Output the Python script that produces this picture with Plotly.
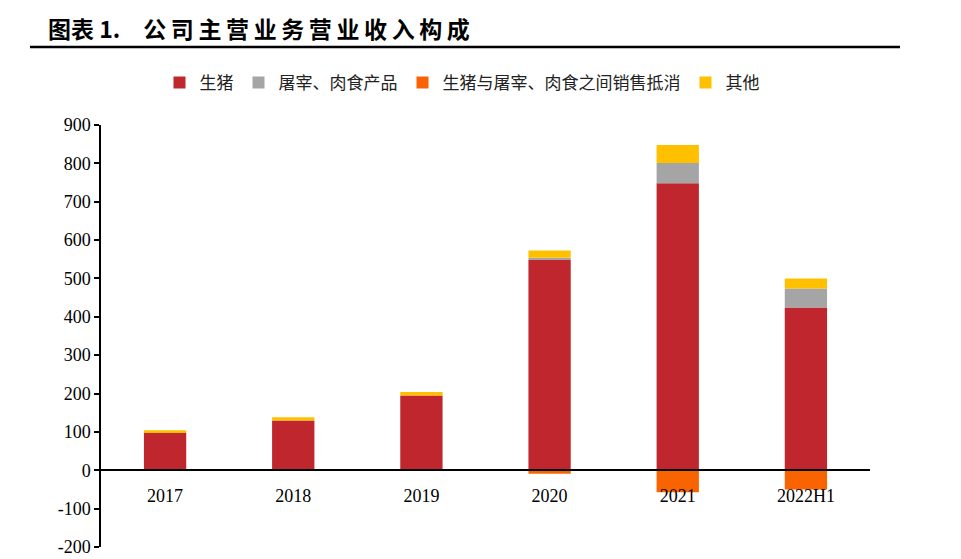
import plotly.graph_objects as go

categories = ["2017", "2018", "2019", "2020", "2021", "2022H1"]
pig = [97, 130, 195, 548, 748, 424]
meat = [0, 0, 0, 6, 53, 50]
offset = [0, 0, 0, -9, -57, -50]
other = [7, 8, 9, 19, 47, 26]
y_ticks = [-200, -100, 0, 100, 200, 300, 400, 500, 600, 700, 800, 900]
y_tick_text = ["-200", "-100", "0", "100", "200", "300", "400", "500", "600", "700", "800", "900"]

names = ["生猪", "屠宰、肉食产品", "生猪与屠宰、肉食之间销售抵消", "其他"]
colors = ["#C0262D", "#A5A5A5", "#F96400", "#FFC000"]

fig = go.Figure()
for name, vals, col in zip(names, [pig, meat, offset, other], colors):
    fig.add_trace(go.Bar(x=categories, y=vals, name=name, marker=dict(color=col, line=dict(width=0)),
                         width=0.33))

# page body has an 8px offset; positions below are in figure coords
OFF = 8
W, H = 961, 559
L, R, T, B = 101 - OFF, 870 - OFF, 125 - OFF, 547 - OFF
zero_pos = (0 - (-200)) / 1100
PW, PH = R - L, B - T

title_txt = "图表 " + "1." + "\u2003" + "\u2009".join("公司主营业务营业收入构成")

fig.update_layout(
    width=W, height=H,
    margin=dict(l=L, r=W - R, t=T, b=H - B, pad=0, autoexpand=False),
    barmode="relative",
    plot_bgcolor="white", paper_bgcolor="white",
    font=dict(family="Liberation Serif", size=18, color="black"),
    showlegend=True,
    legend=dict(orientation="h", xref="container", yref="container",
                x=(462 - OFF) / W, xanchor="center",
                y=1 - (83 - OFF) / H, yanchor="middle",
                font=dict(family="Noto Sans CJK SC", size=17, color="#222"),
                itemwidth=30, tracegroupgap=0),
    title=dict(text="<b>" + title_txt + "</b>", xref="container", yref="container",
               x=(48 - OFF) / W, xanchor="left", y=1 - (30 - OFF) / H, yanchor="middle",
               font=dict(family="Noto Sans CJK SC", size=23, color="black")),
    yaxis=dict(range=[-200, 900], tickvals=y_ticks, ticktext=y_tick_text, showgrid=False, zeroline=False,
               showline=True, linecolor="black", linewidth=1.5, ticks="outside", ticklen=5,
               tickcolor="black", tickwidth=1.5, tickfont=dict(family="Liberation Serif", size=18),
               fixedrange=True),
    xaxis=dict(anchor="free", position=zero_pos, showline=True, linecolor="black", linewidth=1.5,
               ticks="", showgrid=False, tickfont=dict(family="Liberation Serif", size=18),
               ticklabelstandoff=9, range=[-0.5, 5.5]),
    shapes=[dict(type="line", xref="paper", yref="paper",
                 x0=(30 - OFF - L) / PW, x1=(900 - OFF - L) / PW,
                 y0=(B - (47 - OFF)) / PH, y1=(B - (47 - OFF)) / PH,
                 line=dict(color="black", width=2.5))],
)

fig.write_html("out.html")
